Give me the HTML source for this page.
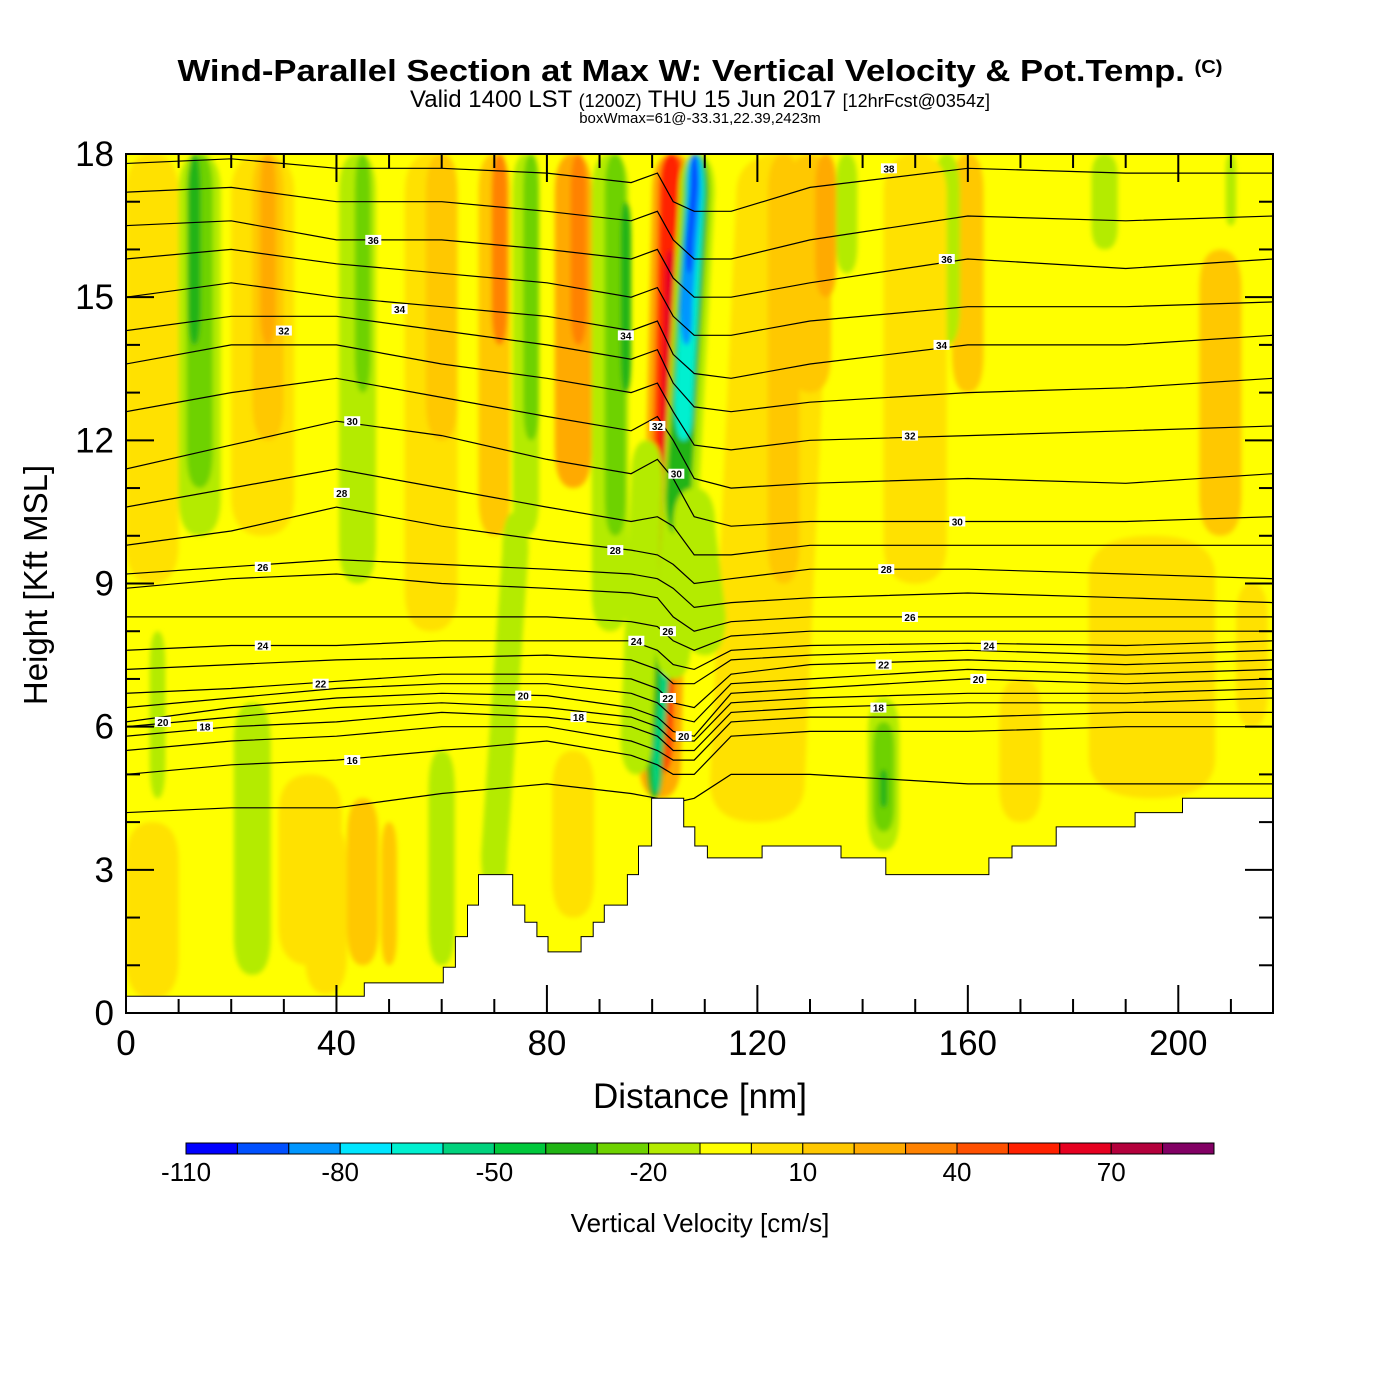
<!DOCTYPE html>
<html><head><meta charset="utf-8">
<style>
body{margin:0;background:#fff;}
svg{display:block;font-family:"Liberation Sans",Arial,sans-serif;}
</style></head>
<body>
<svg id="chart" width="1400" height="1400" viewBox="0 0 1400 1400">
<defs>
<filter id="soft" x="-20%" y="-20%" width="140%" height="140%"><feGaussianBlur stdDeviation="2.5"/></filter>
<clipPath id="plotclip"><rect x="126" y="154" width="1147" height="859"/></clipPath>
</defs>
<g>
<text x="700" y="81" text-anchor="middle" font-size="31" font-weight="bold" textLength="1045" lengthAdjust="spacingAndGlyphs">Wind-Parallel Section at Max W: Vertical Velocity &amp; Pot.Temp. <tspan font-size="18" dy="-8">(C)</tspan></text>
<text x="700" y="107" text-anchor="middle" font-size="24">Valid 1400 LST <tspan font-size="18">(1200Z)</tspan> THU 15 Jun 2017 <tspan font-size="18">[12hrFcst@0354z]</tspan></text>
<text x="700" y="123" text-anchor="middle" font-size="15">boxWmax=61@-33.31,22.39,2423m</text>
</g>
<g id="field" clip-path="url(#plotclip)"></g>
<g id="contours" clip-path="url(#plotclip)"></g>
<g id="terrain"></g>
<g id="clabels"></g>
<rect x="126" y="154" width="1147" height="859" fill="none" stroke="#000" stroke-width="2"/>
<g id="axes"></g>
<text x="700" y="1108" text-anchor="middle" font-size="35">Distance [nm]</text>
<text transform="translate(47,585) rotate(-90)" text-anchor="middle" font-size="33">Height [Kft MSL]</text>
<g id="cbar"></g>
<text x="700" y="1232" text-anchor="middle" font-size="26">Vertical Velocity [cm/s]</text>
</svg>
<script>
// ---- data ----
const cbColors = ["#0000ff","#0050ff","#0096ff","#00e6ff","#00f0d0","#00d27d","#00c83c","#20b414","#6ed200","#b4eb00","#ffff00","#ffe100","#ffc800","#ffaa00","#ff8200","#ff5000","#ff2000","#e60020","#b4003c","#820064"];
const cbLabels = [-110,-80,-50,-20,10,40,70];
const xTickLabels = [0,40,80,120,160,200];
const yTickLabels = [0,3,6,9,12,15,18];
// velocity bands: bottom x (nm), top x (nm), half width (nm), bottom/top height (kft), w (cm/s)
const bandX0 = [5,5,26,27,27,58,60,70,71,85,86,120,130,133,160,170,208,214, 14,14,13,24,6,44,45,70,76,77,92,93,95,60,45,38,50, 101.5,101.5,101.8,102.2,100.5,100.8, 104,105,106,106.5,107, 137,156,186,210,144,144,144, 97,110,195,125,150,35,85];
const bandX1 = [5,5,26,27,27,58,60,70,71,85,86,125,130,133,160,170,208,214, 14,14,13,24,6,44,45,74,76,77,92,93,95,60,45,38,50, 104,103.8,103.6,103.4,102.2,102.2, 108.5,108.4,108.2,108.1,108, 137,156,186,210,144,144,144, 99,108,195,125,150,35,85];
const bandW  = [5,5,6,3,1.5,5,3,3,1.5,3.5,1.5,9,4,2,3,4,4,3, 4,2.5,1.2,3.5,1.5,3.5,1.5,2.5,2.5,1.5,3.5,2,1,2.5,3,4,1.5, 4,2.6,1.8,1.0,1.6,0.7, 3.4,2.4,1.7,1.2,0.7, 2,2.5,2.5,1,3,2,0.7, 3,4,12,3,6,6,4];
const bandY0 = [9,0.3,10,12,14,8,12,10,14,11,14,4,13,15,13,4,10,6, 10,11,14,0.8,4.5,9,13,2.5,10,12,8,10,13,1,1,0.4,1, 4.5,5,6,8,4.5,4.6, 7,10,12,14,15.5, 15.5,14,16,16.5,3.4,3.8,4.3, 5,7.5,4.5,9,9,1,2];
const bandY1 = [18,4,18,18,18,18,18,18,18,18,18,18,18,18,18,7,16,9, 18,18,18,6.5,8,18,18,10.5,18,18,18,18,17,5.5,4.5,4,4, 18,18,18,16,8.5,7.5, 18,18,18,18,18, 18,18,18,18,6.6,6.1,5.1, 12,11,10,18,18,5,5.5];
const bandVal = [5,5,5,15,25,5,15,15,35,25,35,5,15,25,15,5,15,5, -15,-25,-35,-15,-15,-15,-25,-15,-15,-25,-15,-25,-35,-15,15,5,15, 25,45,55,65,-35,-55, -15,-35,-65,-85,-95, -15,-15,-15,-15,-15,-25,-35, -15,-15,5,15,5,5,5];
// terrain: distance (nm) breakpoints and height (kft) of each step
const terrX = [0,45.3,60.3,62.6,64.9,67,73.5,75.8,78.1,80.2,86.5,88.8,90.9,95.3,97.4,99.9,106,108.1,110.5,120.9,135.9,144.4,164,168.4,176.8,191.8,200.8,218];
const terrH = [0.35,0.63,0.96,1.6,2.26,2.9,2.26,1.9,1.6,1.28,1.6,1.9,2.26,2.9,3.5,4.5,3.9,3.5,3.25,3.5,3.25,2.9,3.25,3.5,3.9,4.2,4.5,4.5];
// potential temperature contours: heights (kft) at sample distances
const thXs = [0,20,40,60,80,96,101,104,108,115,130,160,190,218];
const thLevels = [15,16,17,18,19,20,21,22,23,24,25,26,27,28,29,30,31,32,33,34,35,36,37,38];
const thH = [
[4.2,4.3,4.3,4.6,4.8,4.6,4.5,4.4,4.5,5.0,5.0,4.8,4.8,4.8],
[5.0,5.2,5.3,5.5,5.7,5.4,5.2,5.0,5.0,5.8,5.9,5.9,6.0,6.0],
[5.5,5.7,5.8,6.0,6.0,5.7,5.5,5.3,5.3,6.1,6.2,6.2,6.3,6.3],
[5.8,6.0,6.1,6.3,6.2,6.0,5.8,5.5,5.5,6.3,6.4,6.5,6.5,6.6],
[6.0,6.2,6.4,6.5,6.4,6.2,6.0,5.7,5.7,6.5,6.6,6.7,6.7,6.8],
[6.1,6.4,6.6,6.7,6.65,6.4,6.2,5.9,5.8,6.7,6.8,7.0,6.9,7.0],
[6.4,6.6,6.8,6.9,6.9,6.7,6.5,6.2,6.1,6.9,7.0,7.2,7.1,7.2],
[6.7,6.8,6.95,7.1,7.1,7.0,6.8,6.5,6.4,7.1,7.3,7.4,7.3,7.4],
[7.2,7.3,7.4,7.45,7.5,7.4,7.2,6.9,6.9,7.4,7.5,7.6,7.5,7.6],
[7.6,7.7,7.7,7.8,7.8,7.8,7.6,7.3,7.2,7.6,7.7,7.75,7.7,7.8],
[8.3,8.3,8.3,8.3,8.3,8.2,8.1,7.8,7.6,7.9,8.0,8.0,8.0,8.0],
[8.9,9.1,9.2,9.0,8.9,8.8,8.7,8.3,8.0,8.2,8.3,8.3,8.3,8.3],
[9.2,9.35,9.5,9.4,9.3,9.2,9.1,8.9,8.5,8.6,8.7,8.8,8.7,8.6],
[9.8,10.1,10.6,10.2,9.9,9.7,9.6,9.4,9.0,9.1,9.3,9.3,9.2,9.1],
[10.6,11.0,11.4,11.0,10.6,10.3,10.4,10.2,9.6,9.6,9.8,9.8,9.8,9.8],
[11.4,11.9,12.4,12.1,11.6,11.3,11.6,11.2,10.4,10.2,10.3,10.3,10.3,10.4],
[12.6,13.0,13.3,12.9,12.5,12.2,12.5,12.0,11.2,11.0,11.1,11.2,11.1,11.3],
[13.6,14.0,14.0,13.6,13.3,13.0,13.2,12.6,11.9,11.8,12.0,12.1,12.2,12.3],
[14.3,14.6,14.6,14.3,14.0,13.7,13.9,13.2,12.7,12.6,12.8,13.0,13.1,13.3],
[15.0,15.3,15.0,14.8,14.6,14.3,14.5,13.8,13.4,13.3,13.6,14.0,14.0,14.2],
[15.8,16.0,15.7,15.5,15.3,15.0,15.2,14.6,14.2,14.2,14.5,14.8,14.8,14.9],
[16.5,16.6,16.2,16.2,16.0,15.8,16.0,15.4,15.0,15.0,15.3,15.8,15.6,15.8],
[17.2,17.3,17.0,17.0,16.8,16.6,16.8,16.2,15.8,15.8,16.2,16.7,16.6,16.7],
[17.8,17.9,17.7,17.7,17.6,17.4,17.6,17.0,16.8,16.8,17.3,17.7,17.6,17.6]];
// contour labels: value, distance (nm), height (kft)
const lblVal = [38,36,36,34,34,34,32,32,32,30,30,30,28,28,28,26,26,26,24,24,24,22,22,22,20,20,20,20,18,18,18,16];
const lblX = [145,47,156,52,95,155,30,149,101,43,158,104.6,41,93,144.5,26,149,103,26,97,164,37,144,103,7,75.5,162,106,15,86,143,43];
const lblY = [17.7,16.2,15.8,14.75,14.2,14.0,14.3,12.1,12.3,12.4,10.3,11.3,10.9,9.7,9.3,9.35,8.3,8.0,7.7,7.8,7.7,6.9,7.3,6.6,6.1,6.65,7.0,5.8,6.0,6.2,6.4,5.3];

// ---- scales ----
const X0=126, X1=1273, Y0=1013, Y1=154, XMAX=218, YMAX=18;
const sx = d => X0 + d/XMAX*(X1-X0);
const sy = h => Y0 - h/YMAX*(Y0-Y1);
const NS="http://www.w3.org/2000/svg";
function mk(tag, parent){const e=document.createElementNS(NS,tag);parent.appendChild(e);return e;}
const colorOf = v => cbColors[Math.max(0,Math.min(19,Math.floor((v+110)/10)))];

// field
const field=document.getElementById('field');
const bg=mk('rect',field);
bg.setAttribute('x',X0);bg.setAttribute('y',Y1);bg.setAttribute('width',X1-X0);bg.setAttribute('height',Y0-Y1);bg.setAttribute('fill','#ffff00');


const fg=mk('g',field);fg.setAttribute('filter','url(#soft)');
for(let i=0;i<bandVal.length;i++){
  const xa=sx(bandX0[i]), xb=sx(bandX1[i]), w=sx(bandW[i])-sx(0);
  const ya=sy(bandY0[i]), yb=sy(bandY1[i]);
  const t=Math.min(Math.abs(ya-yb)*0.25, 40);
  const d=`M${xa-w},${ya-t} Q${xa-w},${ya} ${xa},${ya} Q${xa+w},${ya} ${xa+w},${ya-t} L${xb+w},${yb+t} Q${xb+w},${yb} ${xb},${yb} Q${xb-w},${yb} ${xb-w},${yb+t} Z`;
  const p=mk('path',fg);
  p.setAttribute('d',d);p.setAttribute('fill',colorOf(bandVal[i]));
  
  
}
// contours
const cg=document.getElementById('contours');
for(let k=0;k<thLevels.length;k++){
  let d='';
  for(let j=0;j<thXs.length;j++){d+=(j?'L':'M')+sx(thXs[j]).toFixed(1)+','+sy(thH[k][j]).toFixed(1)+' ';}
  const p=mk('path',cg);
  p.setAttribute('d',d);p.setAttribute('fill','none');p.setAttribute('stroke','#000');p.setAttribute('stroke-width','1.2');
  
  
}
// terrain
const tg=document.getElementById('terrain');
let td=`M${sx(0)},${Y0} `;
for(let i=0;i<terrX.length;i++){
  const xa=sx(terrX[i]), xb=sx(i+1<terrX.length?terrX[i+1]:XMAX);
  td+=`L${xa.toFixed(1)},${sy(terrH[i]).toFixed(1)} L${xb.toFixed(1)},${sy(terrH[i]).toFixed(1)} `;
}
td+=`L${sx(XMAX)},${Y0} Z`;
const tp=mk('path',tg);
tp.setAttribute('d',td);tp.setAttribute('fill','#fff');tp.setAttribute('stroke','#000');tp.setAttribute('stroke-width','1');


// contour labels
const lg=document.getElementById('clabels');
for(let i=0;i<lblVal.length;i++){
  const g=mk('g',lg);
  
  
  const r=mk('rect',g);
  r.setAttribute('x',sx(lblX[i])-8);r.setAttribute('y',sy(lblY[i])-5);r.setAttribute('width',16);r.setAttribute('height',10);r.setAttribute('fill','#fff');
  const t=mk('text',g);
  t.setAttribute('x',sx(lblX[i]));t.setAttribute('y',sy(lblY[i])+4);t.setAttribute('text-anchor','middle');t.setAttribute('font-size','10');t.setAttribute('font-weight','bold');
  t.textContent=lblVal[i];
}
// axes
const ag=document.getElementById('axes');
function line(x1,y1,x2,y2,w){const l=mk('line',ag);l.setAttribute('x1',x1);l.setAttribute('y1',y1);l.setAttribute('x2',x2);l.setAttribute('y2',y2);l.setAttribute('stroke','#000');l.setAttribute('stroke-width',w);

}
for(let d=0;d<=XMAX;d+=10){const x=sx(d);const L=(d%40===0)?28:14;line(x,Y0,x,Y0-L,2);line(x,Y1,x,Y1+L,2);}
for(let h=0;h<=YMAX;h+=1){const y=sy(h);const L=(h%3===0)?28:14;line(X0,y,X0+L,y,2);line(X1,y,X1-L,y,2);}
xTickLabels.forEach(v=>{const t=mk('text',ag);t.setAttribute('x',sx(v));t.setAttribute('y',1055);t.setAttribute('text-anchor','middle');t.setAttribute('font-size','35');t.textContent=v;

});
yTickLabels.forEach(v=>{const t=mk('text',ag);t.setAttribute('x',114);t.setAttribute('y',sy(v)+12);t.setAttribute('text-anchor','end');t.setAttribute('font-size','35');t.textContent=v;

});
// colorbar
const cb=document.getElementById('cbar');
const CB0=186, CB1=1214, CBY=1143, CBH=11, cw=(CB1-CB0)/cbColors.length;
cbColors.forEach((c,i)=>{const r=mk('rect',cb);r.setAttribute('x',CB0+i*cw);r.setAttribute('y',CBY);r.setAttribute('width',cw);r.setAttribute('height',CBH);r.setAttribute('fill',c);r.setAttribute('stroke','#000');r.setAttribute('stroke-width','1');

});
cbLabels.forEach(v=>{const t=mk('text',cb);t.setAttribute('x',CB0+(v+110)/10*cw);t.setAttribute('y',1181);t.setAttribute('text-anchor','middle');t.setAttribute('font-size','26');t.textContent=v;

});
</script>
</body></html>
